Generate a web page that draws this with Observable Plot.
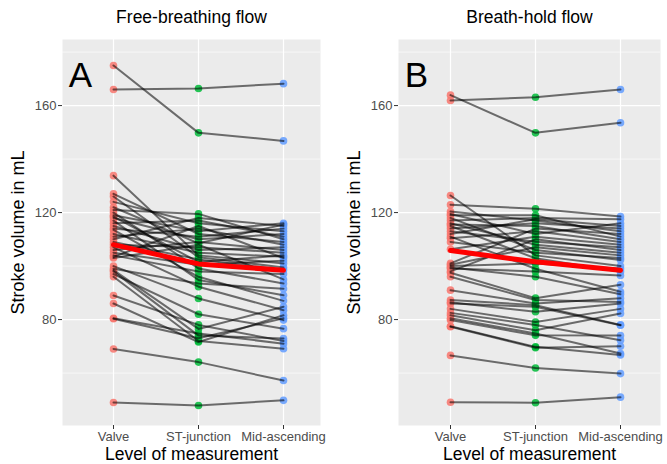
<!DOCTYPE html>
<html>
<head>
<meta charset="utf-8">
<script src="https://cdn.jsdelivr.net/npm/d3@7"></script>
<script src="https://cdn.jsdelivr.net/npm/@observablehq/plot@0.6"></script>
<style>
  body { margin: 0; background: white; }
  #wrap { display: flex; width: 667px; height: 464px; background: white; }
</style>
</head>
<body>
<div id="wrap"></div>
<script>
const levels = ["Valve", "ST-junction", "Mid-ascending"];

// Panel A: Free-breathing flow (one entry per subject)
const valveA = [175, 166, 133.8, 127, 126, 124, 122, 121, 120, 119, 118.5, 118, 117, 116, 115, 114, 113.5, 112, 111, 110,
                109, 108, 107, 106, 105, 104, 103.5, 103, 100, 99, 98.5, 98, 97, 96, 89, 86, 80.5, 80.3, 69, 49];
const stA    = [149.8, 166.4, 104, 112, 103.3, 116, 108.5, 119.5, 99.1, 113, 101.5, 110, 94.8, 117, 106, 111, 96, 105, 114, 118,
                102.5, 107, 92.3, 109, 100.5, 98, 115, 108, 87.9, 93.5, 76.5, 74, 82, 72, 78, 71.6, 74.8, 73, 64.1, 47.9];
const midA   = [146.8, 168.2, 101, 109, 99.5, 113, 115.5, 110, 93.5, 116, 104, 112, 89.1, 111, 107, 114, 87, 103.5, 108, 115,
                98.5, 105, 83.5, 106, 102, 97, 103, 95, 79.8, 91.5, 84.8, 72.9, 76.6, 69.1, 72, 81.6, 71, 80.5, 57.2, 49.8];

// Panel B: Breath-hold flow
const valveB = [163.9, 161.9, 126.4, 122.9, 120.4, 119.5, 119, 118, 117, 116, 115.5, 115, 114, 113, 112, 111, 110.4, 109, 106.3, 101,
                100.5, 100, 99.5, 99.1, 98, 97.5, 96, 91, 87.3, 86.5, 86, 84, 82.5, 81.6, 80.5, 79.8, 77.5, 77.3, 66.6, 49.1];
const stB    = [149.8, 163.1, 104, 121.4, 117, 112, 119, 106, 118, 108, 115, 102.9, 116, 109.1, 117.5, 99, 113, 105, 111, 114,
                107, 101, 96, 98, 110, 88, 87.3, 86, 85.4, 82.9, 84.8, 79.1, 78, 76, 74.8, 74.1, 69.8, 69.5, 61.9, 48.9];
const midB   = [153.6, 166, 100, 118.5, 113, 116, 111, 102.3, 117.5, 105, 110, 97.9, 114, 107, 115, 90.4, 109, 103, 108, 112,
                104, 99, 89.5, 96.5, 106, 93, 86.6, 88, 78, 86, 77.9, 84, 72.3, 82.3, 67.3, 74, 66.8, 70, 59.8, 51];

// Mean lines (red)
const meanA = [108, 100.8, 98.4];
const meanB = [105.8, 101.6, 98.4];

const yMajor = [80, 120, 160];
const yMinor = [60, 100, 140, 180];
const levelColors = ["#F8766D", "#00BA38", "#619CFF"];

function rows(v, s, m) {
  return v.flatMap((d, i) => [
    {id: i, level: levels[0], value: d},
    {id: i, level: levels[1], value: s[i]},
    {id: i, level: levels[2], value: m[i]}
  ]);
}

const font = "'Liberation Sans', Arial, Helvetica, sans-serif";

function panel({data, mean, title, letter, width, marginLeft, marginRight, range}) {
  return Plot.plot({
    width, height: 464,
    marginTop: 39, marginBottom: 39, marginLeft, marginRight,
    style: {fontFamily: font, background: "white", color: "black"},
    x: {type: "point", domain: levels, range, padding: 0, label: null},
    y: {domain: [40.4, 184.7], label: null},
    color: {domain: levels, range: levelColors},
    marks: [
      Plot.frame({fill: "#EBEBEB", stroke: "none"}),
      Plot.gridY(yMinor, {stroke: "white", strokeOpacity: 1, strokeWidth: 0.6}),
      Plot.gridY(yMajor, {stroke: "white", strokeOpacity: 1, strokeWidth: 1.2}),
      Plot.gridX(levels, {stroke: "white", strokeOpacity: 1, strokeWidth: 1.2}),
      Plot.axisY(yMajor, {tickSize: 4, tickPadding: 2, fontSize: 13, fill: "#4D4D4D", stroke: "#333333", label: null}),
      Plot.axisX(levels, {tickSize: 4, tickPadding: 2, fontSize: 13, fill: "#4D4D4D", stroke: "#333333", label: null}),
      Plot.dot(data, {x: "level", y: "value", fill: "level", r: 3.8, fillOpacity: 0.85, stroke: "none"}),
      Plot.line(data, {x: "level", y: "value", z: "id", stroke: "black", strokeOpacity: 0.55, strokeWidth: 2}),
      Plot.line(mean, {x: (d, i) => levels[i], y: d => d, stroke: "#FF0000", strokeWidth: 5}),
      Plot.text([title], {frameAnchor: "top", dy: -22, fontSize: 17.5, textAnchor: "middle", lineAnchor: "middle", fill: "black"}),
      Plot.text([letter], {frameAnchor: "top-left", dx: 18, dy: 36, fontSize: 35, textAnchor: "middle", lineAnchor: "middle", fill: "black"}),
      Plot.text(["Stroke volume in mL"], {frameAnchor: "left", dx: -44, rotate: -90, fontSize: 18, textAnchor: "middle", lineAnchor: "middle", fill: "black"}),
      Plot.text(["Level of measurement"], {frameAnchor: "bottom", dy: 29, fontSize: 17.5, textAnchor: "middle", lineAnchor: "middle", fill: "black"})
    ]
  });
}

const wrap = document.getElementById("wrap");
wrap.append(panel({
  data: rows(valveA, stA, midA), mean: meanA, title: "Free-breathing flow", letter: "A",
  width: 333, marginLeft: 62, marginRight: 13, range: [112.7, 283.3]
}));
wrap.append(panel({
  data: rows(valveB, stB, midB), mean: meanB, title: "Breath-hold flow", letter: "B",
  width: 334, marginLeft: 65, marginRight: 7, range: [116.3, 287]
}));
</script>
</body>
</html>
